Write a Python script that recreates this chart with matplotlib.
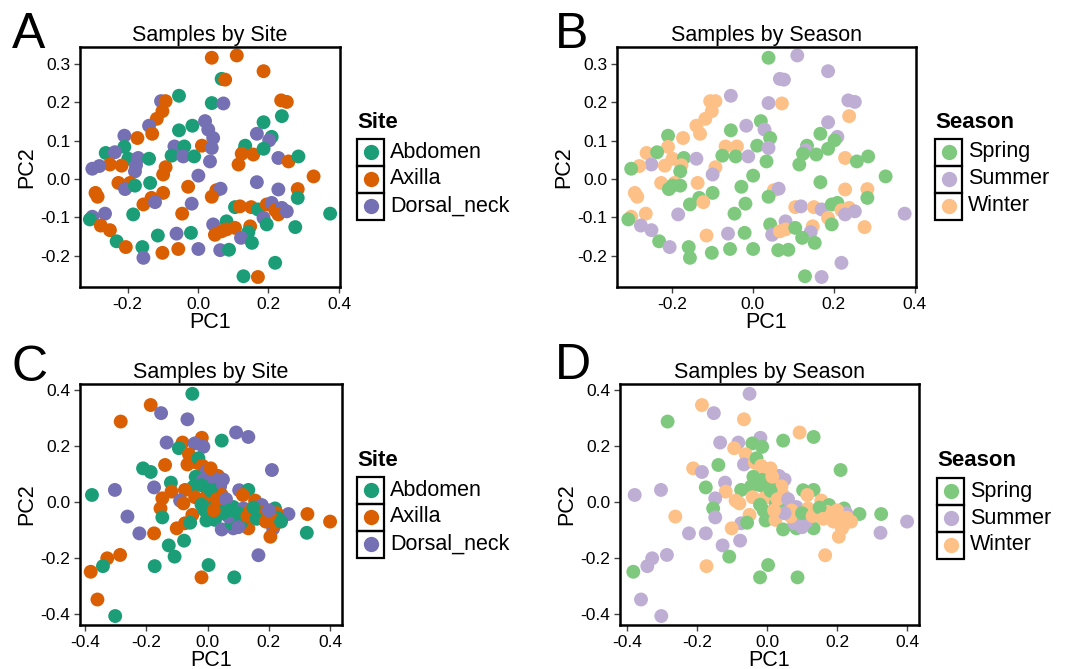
import matplotlib
matplotlib.use("Agg")
import matplotlib.pyplot as plt
from matplotlib.patches import Rectangle
from matplotlib.lines import Line2D
from matplotlib.ticker import FormatStrFormatter

plt.rcParams['font.family'] = ['Liberation Sans', 'DejaVu Sans']
plt.rcParams['axes.unicode_minus'] = False

W, H = 1069, 669

# ---- samples shown in panels A and B (same PCA, two colourings)
pc1_ab = [0.039, 0.110, 0.186, 0.067, 0.077, -0.054, -0.105, -0.092, 0.039, 0.072,
          -0.101, -0.117, 0.236, 0.252, -0.139, -0.016, 0.020, 0.238, 0.186, -0.054,
          -0.130, -0.209, -0.172, 0.029, 0.043, 0.167, 0.209, 0.202, -0.209, -0.067,
          -0.039, 0.011, 0.039, 0.134, 0.131, 0.124, 0.157, 0.186, -0.262, -0.236,
          -0.198, -0.170, -0.139, -0.075, -0.042, -0.011, 0.228, 0.257, 0.285, 0.034,
          0.115, -0.250, -0.217, -0.280, -0.300, -0.176, -0.179, -0.092, -0.099, 0.001,
          0.328, -0.226, -0.193, -0.198, -0.207, -0.179, -0.136, -0.028, 0.167, 0.228,
          0.283, 0.283, -0.291, -0.285, -0.099, -0.132, -0.155, -0.122, -0.018, 0.052,
          0.064, 0.039, 0.105, 0.119, 0.151, 0.170, 0.195, 0.209, 0.219, 0.238,
          0.228, 0.252, 0.186, 0.195, 0.375, 0.276, -0.184, -0.045, -0.300, -0.307,
          -0.264, -0.276, -0.250, -0.231, -0.205, -0.158, -0.155, -0.114, -0.101, -0.056,
          -0.061, -0.020, 0.001, 0.043, 0.081, 0.048, 0.067, 0.081, 0.105, 0.148,
          0.143, 0.122, 0.153, 0.063, 0.088, 0.219, 0.129, 0.170]
pc2_ab = [0.316, 0.322, 0.281, 0.261, 0.259, 0.217, 0.203, 0.203, 0.198, 0.197,
          0.177, 0.157, 0.205, 0.201, 0.139, 0.139, 0.151, 0.164, 0.148, 0.127,
          0.118, 0.113, 0.107, 0.129, 0.107, 0.118, 0.110, 0.101, 0.084, 0.085,
          0.085, 0.087, 0.081, 0.087, 0.075, 0.066, 0.064, 0.079, 0.068, 0.070,
          0.053, 0.055, 0.053, 0.061, 0.059, 0.059, 0.055, 0.046, 0.059, 0.046,
          0.038, 0.038, 0.035, 0.034, 0.027, 0.036, 0.020, 0.031, 0.012, 0.009,
          0.007, -0.010, -0.010, -0.017, -0.026, -0.017, -0.010, -0.020, -0.008, -0.027,
          -0.026, -0.049, -0.036, -0.046, -0.036, -0.049, -0.066, -0.060, -0.064, -0.029,
          -0.025, -0.046, -0.073, -0.071, -0.073, -0.079, -0.066, -0.062, -0.081, -0.075,
          -0.092, -0.084, -0.101, -0.118, -0.090, -0.125, -0.092, -0.090, -0.098, -0.105,
          -0.090, -0.121, -0.133, -0.162, -0.177, -0.177, -0.205, -0.147, -0.192, -0.182,
          -0.142, -0.140, -0.182, -0.118, -0.110, -0.145, -0.136, -0.131, -0.127, -0.123,
          -0.138, -0.153, -0.166, -0.185, -0.184, -0.218, -0.253, -0.255]
site_ab = list("XXXAXADXAD" "XXXXDADAAA" "XDXDDDADAD" "AXDAAXXAAD" "ADAADADXAD"
               "XXXDDDDXXD" "XXXXDAAXDD" "XAXXXXXDDX" "DXAXXAXDXD" "XDDAAAAXDA"
               "DXXAXADAXX" "DADDAXXXXX" "ADADAAAX")
season_ab = ["Sp", "Su", "Su", "Su", "Su", "Su", "W", "W", "Su", "W",
             "W", "W", "Su", "Su", "W", "Su", "Sp", "W", "Su", "Sp",
             "W", "Sp", "W", "Su", "Sp", "Sp", "Su", "Sp", "W", "W",
             "W", "Sp", "Su", "Sp", "Su", "Sp", "Sp", "Sp", "W", "Sp",
             "W", "Sp", "Su", "Sp", "Sp", "Su", "W", "Sp", "Sp", "Sp",
             "Sp", "Su", "W", "W", "Sp", "W", "Sp", "W", "Su", "Sp",
             "Sp", "W", "W", "Sp", "Sp", "Sp", "W", "Sp", "Sp", "W",
             "W", "Sp", "W", "W", "Sp", "Sp", "Sp", "W", "Sp", "W",
             "Su", "Sp", "W", "Su", "W", "Su", "Sp", "Sp", "W", "W",
             "Su", "Su", "W", "Sp", "Su", "W", "Su", "Sp", "W", "Sp",
             "W", "Su", "Su", "Sp", "Su", "Sp", "Sp", "W", "Sp", "Sp",
             "Su", "Sp", "Sp", "Sp", "Su", "Su", "W", "W", "Sp", "W",
             "Su", "Sp", "Sp", "Sp", "Sp", "Su", "Sp", "Su"]

# ---- samples shown in panels C and D
pc1_cd = [-0.050, -0.186, -0.152, -0.066, -0.284, -0.019, -0.134, -0.082, -0.042, -0.014,
          -0.094, -0.061, -0.066, -0.035, -0.030, -0.017, -0.139, -0.211, -0.186, -0.003,
          -0.120, -0.039, -0.014, -0.046, -0.175, -0.303, -0.378, -0.118, -0.074, -0.148,
          -0.090, -0.041, -0.008, -0.079, -0.154, -0.148, -0.262, -0.050, -0.074, -0.101,
          -0.057, -0.004, -0.223, -0.175, -0.127, -0.077, -0.108, -0.286, -0.328, -0.342,
          -0.382, -0.173, 0.003, -0.020, -0.360, -0.302, 0.093, 0.133, 0.046, 0.210,
          0.034, 0.024, 0.050, 0.041, 0.046, 0.025, 0.103, 0.133, 0.115, 0.155,
          0.177, 0.084, 0.117, 0.172, 0.188, 0.220, 0.264, 0.226, 0.228, 0.326,
          0.400, 0.324, 0.214, 0.205, 0.133, 0.024, 0.046, 0.084, 0.078, 0.112,
          0.068, 0.166, 0.087, 0.005, 0.000, 0.015, -0.010, 0.060, 0.140,
          0.010, 0.030, 0.060, 0.070, 0.100, 0.130, 0.150, 0.160, 0.190, 0.210,
          0.220, 0.240, 0.200, 0.050, 0.100, 0.020, -0.020, 0.010, -0.020]
pc2_cd = [0.386, 0.346, 0.317, 0.295, 0.287, 0.229, 0.212, 0.212, 0.209, 0.197,
          0.192, 0.170, 0.134, 0.140, 0.156, 0.129, 0.132, 0.120, 0.107, 0.110,
          0.069, 0.090, 0.079, 0.055, 0.052, 0.043, 0.025, 0.037, 0.043, 0.013,
          0.005, 0.017, 0.013, -0.005, -0.023, -0.055, -0.052, -0.046, -0.076, -0.094,
          -0.074, -0.066, -0.112, -0.112, -0.155, -0.138, -0.195, -0.189, -0.201, -0.229,
          -0.249, -0.229, -0.225, -0.269, -0.348, -0.407, 0.248, 0.232, 0.219, 0.114,
          0.093, 0.067, 0.080, 0.056, 0.025, -0.007, 0.042, 0.043, 0.025, 0.005,
          -0.011, -0.018, -0.023, -0.035, -0.052, -0.023, -0.043, -0.040, -0.056, -0.043,
          -0.070, -0.110, -0.095, -0.124, -0.094, -0.064, -0.098, -0.094, -0.076, -0.070,
          -0.052, -0.190, -0.269, 0.060, 0.030, 0.090, -0.030, -0.020, -0.030,
          0.040, 0.010, 0.010, -0.030, -0.040, -0.050, -0.020, -0.060, -0.070, -0.060,
          -0.080, -0.070, -0.030, -0.040, -0.090, -0.030, 0.060, 0.120, -0.010]
site_cd = list("AXDDXXDXDD" "AXXXAXXAAD" "AADADDAXXX" "DXXXXADXXX" "AADXAAAXXA"
               "XAAXXADDAD" "XXDDXADAXX" "DADXXADXAX" "XADXXADDAA" "DDAAXDAAX"
               "AXDAAXAAXX" "XADADXAXA")
season_cd = ["Su", "W", "Su", "W", "Sp", "Su", "Su", "Su", "Sp", "Sp",
             "W", "W", "Su", "W", "Sp", "W", "Sp", "W", "Su", "W",
             "Su", "Sp", "Sp", "Sp", "Sp", "Su", "Su", "W", "Sp", "Su",
             "W", "W", "W", "W", "Sp", "Su", "W", "W", "Su", "W",
             "Sp", "Sp", "Su", "Su", "Su", "Su", "Sp", "Su", "Su", "Su",
             "Sp", "W", "Sp", "Sp", "Su", "Su", "W", "Sp", "Sp", "Sp",
             "Su", "W", "Su", "W", "W", "Sp", "Sp", "Sp", "W", "W",
             "Sp", "Su", "W", "W", "W", "Sp", "Sp", "Su", "W", "Sp",
             "Su", "Su", "W", "W", "Sp", "W", "Sp", "Sp", "Su", "Su",
             "W", "W", "Sp", "Sp", "W", "W", "Sp", "Sp", "W",
             "Sp", "W", "Su", "W", "Sp", "W", "Sp", "W", "W", "W",
             "W", "W", "W", "Su", "Su", "W", "Sp", "W", "Sp"]

site_names = {"A": "Abdomen", "X": "Axilla", "D": "Dorsal_neck"}
site_cols = {"A": "#1B9E77", "X": "#D95F02", "D": "#7570B3"}
season_names = {"Sp": "Spring", "Su": "Summer", "W": "Winter"}
season_cols = {"Sp": "#7FC97F", "Su": "#BEAED4", "W": "#FDC086"}

fig = plt.figure(figsize=(W / 100, H / 100), dpi=100)


def px_axes(left, right, top, bottom):
    return fig.add_axes([left / W, 1 - bottom / H, (right - left) / W, (bottom - top) / H])


def style(ax, title, xlim, ylim, xt, yt):
    ax.set_xlim(*xlim)
    ax.set_ylim(*ylim)
    ax.set_xticks(xt)
    ax.set_yticks(yt)
    ax.xaxis.set_major_formatter(FormatStrFormatter('%.1f'))
    ax.yaxis.set_major_formatter(FormatStrFormatter('%.1f'))
    ax.tick_params(direction='out', length=4, width=1, color='#444444', labelsize=12.5, pad=3)
    for s in ax.spines.values():
        s.set_linewidth(1.8)
    ax.set_title(title, fontsize=15.5, pad=4)
    ax.set_xlabel('PC1', fontsize=15.5, labelpad=0)
    ax.set_ylabel('PC2', fontsize=15.5, labelpad=2)


def legend(x0, ytitle, title, keys, names, cols):
    fig.text(x0 / W, 1 - ytitle / H, title, fontsize=16, fontweight='bold', va='center', ha='left')
    for i, k in enumerate(keys):
        yc = ytitle + 30 + 27 * i
        fig.add_artist(Rectangle((x0 / W, 1 - (yc + 13.5) / H), 27 / W, 27 / H, fill=False,
                                 ec='black', lw=1.6, transform=fig.transFigure))
        fig.add_artist(Line2D([(x0 + 13.5) / W], [1 - yc / H], marker='o', ms=10, lw=0,
                              color=cols[k], transform=fig.transFigure))
        fig.text((x0 + 33) / W, 1 - yc / H, names[k], fontsize=15.5, va='center', ha='left')


axA = px_axes(80, 340, 47, 287)
axB = px_axes(617, 916, 47, 287)
axC = px_axes(80, 342, 384, 625)
axD = px_axes(620, 919, 384, 625)

axA.scatter(pc1_ab, pc2_ab, c=[site_cols[s] for s in site_ab], s=100, linewidths=0)
axB.scatter(pc1_ab, pc2_ab, c=[season_cols[s] for s in season_ab], s=100, linewidths=0)
axC.scatter(pc1_cd, pc2_cd, c=[site_cols[s] for s in site_cd], s=100, linewidths=0)
axD.scatter(pc1_cd, pc2_cd, c=[season_cols[s] for s in season_cd], s=100, linewidths=0)

for ax, t in [(axA, 'Samples by Site'), (axB, 'Samples by Season')]:
    style(ax, t, (-0.335, 0.403), (-0.281, 0.344), [-0.2, 0.0, 0.2, 0.4],
          [-0.2, -0.1, 0.0, 0.1, 0.2, 0.3])
style(axC, 'Samples by Site', (-0.417, 0.439), (-0.439, 0.421),
      [-0.4, -0.2, 0.0, 0.2, 0.4], [-0.4, -0.2, 0.0, 0.2, 0.4])
style(axD, 'Samples by Season', (-0.42, 0.434), (-0.439, 0.421),
      [-0.4, -0.2, 0.0, 0.2, 0.4], [-0.4, -0.2, 0.0, 0.2, 0.4])

legend(357, 122, 'Site', ['A', 'X', 'D'], site_names, site_cols)
legend(935, 122, 'Season', ['Sp', 'Su', 'W'], season_names, season_cols)
legend(357, 460, 'Site', ['A', 'X', 'D'], site_names, site_cols)
legend(937, 461, 'Season', ['Sp', 'Su', 'W'], season_names, season_cols)

for lab, x, y in [('A', 12, 35), ('B', 555, 35), ('C', 12, 368), ('D', 555, 366)]:
    fig.text(x / W, 1 - y / H, lab, fontsize=36, va='center', ha='left')

fig.savefig('out.png', dpi=100)
